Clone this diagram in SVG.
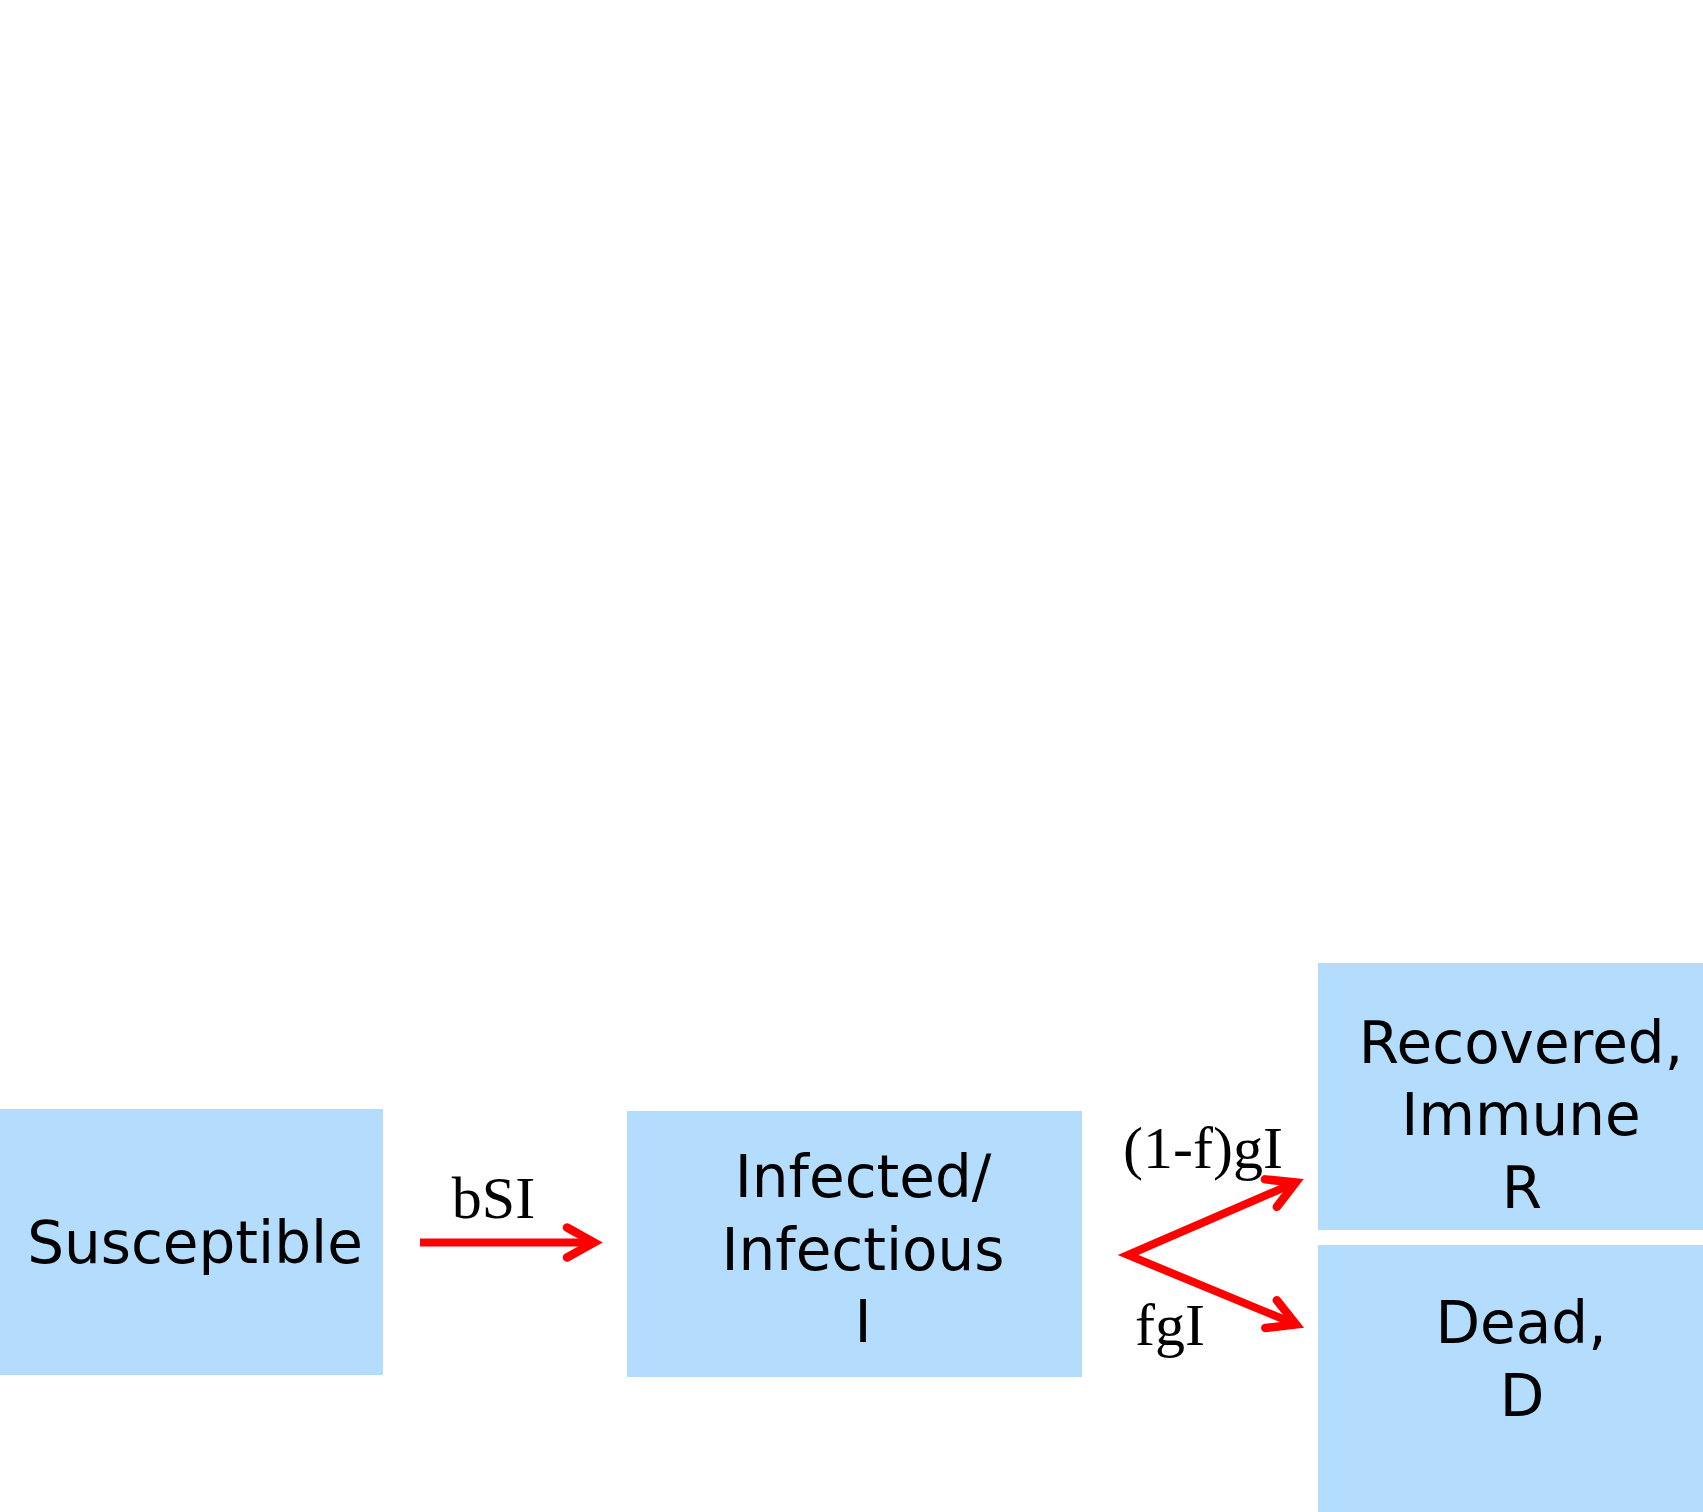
<svg xmlns="http://www.w3.org/2000/svg" width="1703" height="1512" viewBox="0 0 1703 1512">
<style>
.box{fill:#b4dcfc;}
.nt{font-family:"DejaVu Sans",sans-serif;font-size:58px;fill:#000;text-anchor:middle;}
.lb{font-family:"Liberation Serif",serif;font-size:60px;fill:#000;}
.arr{fill:none;stroke:#ff0000;stroke-width:8;stroke-linejoin:miter;}
</style>
<defs>
<marker id="ah" markerUnits="userSpaceOnUse" orient="auto-start-reverse" refX="0" refY="0" markerWidth="60" markerHeight="60" overflow="visible">
<path d="M-27,-15 L0,0 L-27,15" fill="none" stroke="#ff0000" stroke-width="8.5" stroke-linecap="round" stroke-linejoin="miter"/>
</marker>
</defs>
<rect width="1703" height="1512" fill="#ffffff"/>
<g id="susceptible">
<rect class="box" x="0" y="1109" width="383" height="266"/>
<text class="nt" x="195" y="1263">Susceptible</text>
</g>
<g id="infected">
<rect class="box" x="627" y="1111" width="455" height="266"/>
<text class="nt" x="863" y="1197">Infected/</text>
<text class="nt" x="863" y="1270">Infectious</text>
<text class="nt" x="863" y="1342">I</text>
</g>
<g id="recovered">
<rect class="box" x="1318" y="963" width="385" height="267"/>
<text class="nt" x="1521" y="1063">Recovered,</text>
<text class="nt" x="1521" y="1135">Immune</text>
<text class="nt" x="1522" y="1208">R</text>
</g>
<g id="dead">
<rect class="box" x="1318" y="1245" width="385" height="267"/>
<text class="nt" x="1521" y="1343">Dead,</text>
<text class="nt" x="1522" y="1416">D</text>
</g>
<g id="connectors">
<path class="arr" d="M420,1242.5 L594,1242.5" marker-end="url(#ah)"/>
<path class="arr" d="M1295.7,1182.4 L1128,1255 L1296,1324.4" marker-start="url(#ah)" marker-end="url(#ah)"/>
<text class="lb" x="493.5" y="1218" text-anchor="middle">bSI</text>
<text class="lb" x="1123" y="1168">(1-f)gI</text>
<text class="lb" x="1135" y="1345">fgI</text>
</g>
</svg>
